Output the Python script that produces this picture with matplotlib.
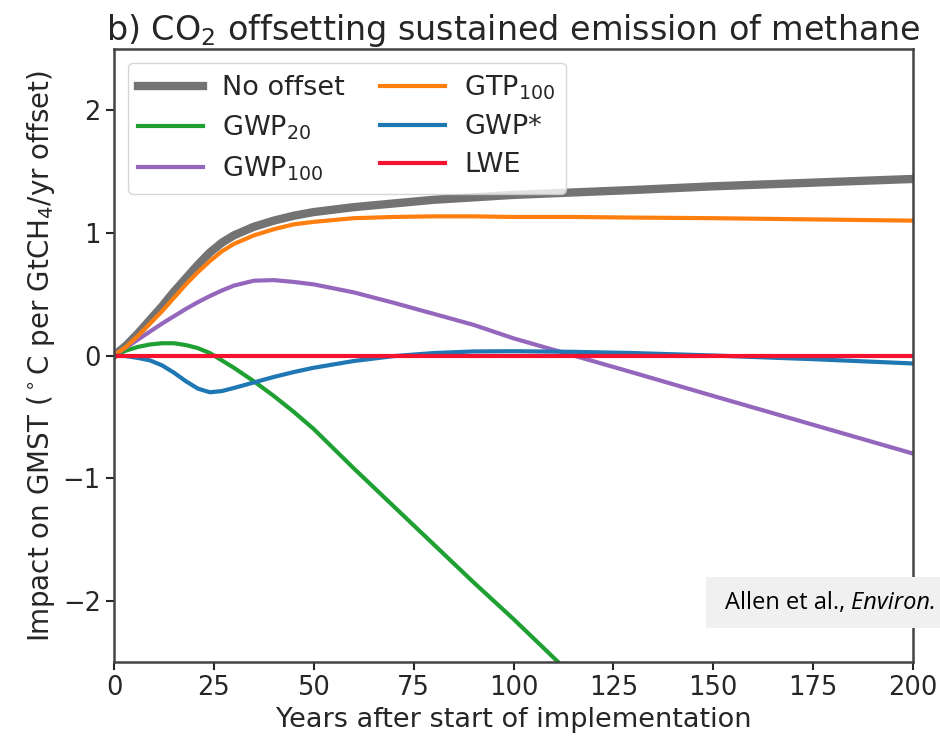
import numpy as np
import matplotlib.pyplot as plt
from matplotlib.patches import Rectangle

# years after start of implementation
years = [0, 3, 6, 9, 12, 15, 18, 21, 24, 27, 30, 35, 40, 45, 50,
         60, 70, 80, 90, 100, 115, 130, 150, 175, 200]

no_offset = [0, 0.08, 0.18, 0.29, 0.40, 0.52, 0.63, 0.74, 0.84, 0.92, 0.98, 1.05, 1.10, 1.14, 1.17,
             1.21, 1.24, 1.27, 1.29, 1.31, 1.33, 1.35, 1.38, 1.41, 1.44]
gwp20 = [0, 0.04, 0.07, 0.09, 0.10, 0.10, 0.085, 0.06, 0.02, -0.04, -0.10, -0.21, -0.33, -0.46, -0.60,
         -0.92, -1.23, -1.54, -1.85, -2.15, -2.62, -3.08, -3.70, -4.48, -5.25]
gwp100 = [0, 0.065, 0.13, 0.195, 0.26, 0.32, 0.38, 0.435, 0.485, 0.53, 0.57, 0.61, 0.615, 0.60, 0.58,
          0.515, 0.43, 0.34, 0.25, 0.14, 0.0, -0.14, -0.33, -0.565, -0.80]
gtp100 = [0, 0.07, 0.16, 0.26, 0.36, 0.47, 0.58, 0.68, 0.77, 0.85, 0.91, 0.98, 1.03, 1.07, 1.09,
          1.12, 1.13, 1.135, 1.135, 1.13, 1.13, 1.125, 1.12, 1.11, 1.10]
gwp_star = [0, -0.005, -0.02, -0.04, -0.08, -0.14, -0.21, -0.27, -0.30, -0.29, -0.265, -0.22, -0.175, -0.135, -0.10,
            -0.045, -0.005, 0.02, 0.033, 0.035, 0.03, 0.02, 0.0, -0.03, -0.065]
lwe = [0] * len(years)

TXT = '#262626'
plt.rcParams['font.size'] = 18.5
plt.rcParams['text.color'] = TXT
plt.rcParams['axes.labelcolor'] = TXT
plt.rcParams['xtick.color'] = TXT
plt.rcParams['ytick.color'] = TXT

fig = plt.figure(figsize=(9.4, 7.39), dpi=100)
ax = fig.add_axes([114/940, 77/739, 799/940, 613/739])

ax.plot(years, no_offset, color='#737373', lw=6, label='No offset')
ax.plot(years, gwp20, color='#1fa032', lw=3, label='GWP$_{20}$')
ax.plot(years, gwp100, color='#9467bd', lw=3, label='GWP$_{100}$')
ax.plot(years, gtp100, color='#ff7f0e', lw=3, label='GTP$_{100}$')
ax.plot(years, gwp_star, color='#1f77b4', lw=3, label='GWP*')
ax.plot(years, lwe, color='#f5122e', lw=3, label='LWE')

ax.set_xlim(0, 200)
ax.set_ylim(-2.5, 2.5)
ax.set_xticks([0, 25, 50, 75, 100, 125, 150, 175, 200])
ax.set_yticks([-2, -1, 0, 1, 2])
ax.set_yticklabels(['\u22122', '\u22121', '0', '1', '2'])
ax.tick_params(length=6, width=1.5)
for s in ax.spines.values():
    s.set_linewidth(1.8)
    s.set_color('#444444')

ax.set_xlabel('Years after start of implementation', labelpad=4, fontsize=19.5)
ax.set_ylabel(r'Impact on GMST ($^\circ$C per GtCH$_4$/yr offset)', labelpad=4, fontsize=20)
ax.set_title(r'b) CO$_2$ offsetting sustained emission of methane', pad=5, fontsize=24)

ax.legend(loc='upper left', ncol=2, fontsize=19.5, handlelength=2.4, handletextpad=0.7,
          columnspacing=1.3, labelspacing=0.45, borderaxespad=0.5, framealpha=0.8)

# source note box at lower right
fig.patches.append(Rectangle((706/940, (739-628)/739), 240/940, 51/739,
                             transform=fig.transFigure, facecolor='#f0f0f0',
                             edgecolor='none', zorder=5))
fig.text(725/940, (739-603)/739, 'Allen et al.,', fontsize=17, family='Open Sans',
         color='black', va='center', zorder=6)
fig.text(851/940, (739-603)/739, 'Environ.', fontsize=17, family='Open Sans',
         style='italic', color='black', va='center', zorder=6)

fig.savefig('out.png', dpi=100)
